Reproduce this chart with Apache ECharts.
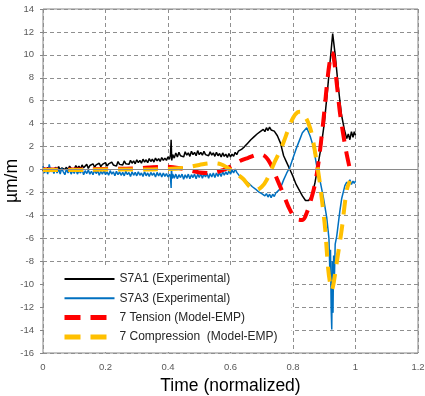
<!DOCTYPE html>
<html><head><meta charset="utf-8">
<script src="https://cdn.jsdelivr.net/npm/echarts@6/dist/echarts.min.js"></script>
<style>html,body{margin:0;padding:0;background:#fff}#c{width:425px;height:396px}</style>
</head><body><div id="c"></div>
<script>
const seriesNames = ['S7A1 (Experimental)', 'S7A3 (Experimental)', '7 Tension (Model-EMP)', '7 Compression  (Model-EMP)'];
const xTicks = [0, 0.2, 0.4, 0.6, 0.8, 1, 1.2];
const yTicks = [-16, -14, -12, -10, -8, -6, -4, -2, 0, 2, 4, 6, 8, 10, 12, 14];

const s7a1 = [
[0.000,-0.15],[0.005,0.15],[0.010,-0.05],[0.015,0.2],[0.020,-0.2],[0.025,0.1],[0.030,0.05],[0.035,-0.15],[0.040,0.2],[0.045,0.0],
[0.050,0.25],[0.055,-0.05],[0.060,0.15],[0.065,0.3],[0.070,0.0],[0.075,0.2],[0.080,-0.05],[0.085,0.3],[0.090,0.1],[0.095,0.25],
[0.100,0.0],[0.105,0.35],[0.110,0.1],[0.115,0.3],[0.120,0.05],[0.125,0.4],[0.130,0.15],[0.135,0.3],[0.140,0.45],[0.145,0.1],
[0.150,0.35],[0.155,0.2],[0.160,0.5],[0.165,0.2],[0.170,0.4],[0.175,0.25],[0.180,0.55],[0.185,0.25],[0.190,0.45],[0.195,0.3],
[0.200,0.6],[0.205,0.3],[0.210,0.5],[0.215,0.35],[0.220,0.65],[0.225,0.4],[0.230,0.55],[0.235,0.3],[0.240,0.7],[0.245,0.45],
[0.250,0.6],[0.255,0.4],[0.260,0.75],[0.265,0.5],[0.270,0.65],[0.275,0.45],[0.280,0.8],[0.285,0.55],[0.290,0.75],[0.295,0.5],
[0.300,0.85],[0.305,0.6],[0.310,0.8],[0.315,0.55],[0.320,0.9],[0.325,0.65],[0.330,0.85],[0.335,0.6],[0.340,0.95],[0.345,0.7],
[0.350,0.9],[0.355,0.65],[0.360,1.0],[0.365,0.75],[0.370,0.95],[0.375,0.7],[0.380,1.05],[0.385,0.8],[0.390,1.0],[0.395,0.8],
[0.400,1.1],[0.405,0.9],[0.408,1.3],[0.410,2.6],[0.412,0.8],[0.415,1.3],[0.420,1.0],[0.425,1.45],[0.430,1.1],[0.435,1.5],
[0.440,1.2],[0.445,1.35],[0.450,1.1],[0.455,1.55],[0.460,1.25],[0.465,1.45],[0.470,1.15],[0.475,1.6],[0.480,1.3],[0.485,1.5],
[0.490,1.2],[0.495,1.65],[0.500,1.3],[0.505,1.5],[0.510,1.25],[0.515,1.6],[0.520,1.3],[0.525,1.45],[0.530,1.2],[0.535,1.55],
[0.540,1.25],[0.545,1.45],[0.550,1.15],[0.555,1.5],[0.560,1.2],[0.565,1.4],[0.570,1.1],[0.575,1.45],[0.580,1.15],[0.585,1.35],
[0.590,1.05],[0.595,1.4],[0.600,1.1],[0.605,1.35],[0.610,1.15],[0.615,1.5],[0.620,1.3],[0.625,1.6],[0.630,1.45],[0.635,1.75],
[0.640,1.7],[0.645,2.0],[0.650,1.95],[0.655,2.3],[0.660,2.25],[0.665,2.6],[0.670,2.5],[0.675,2.85],[0.680,2.8],[0.685,3.1],
[0.690,2.95],[0.695,3.3],[0.700,3.15],[0.705,3.5],[0.710,3.3],[0.715,3.65],[0.720,3.4],[0.725,3.7],[0.730,3.45],[0.735,3.6],
[0.740,3.35],[0.745,3.3],[0.750,2.95],[0.76,2.3],[0.77,1.2],
[0.78,0.6],[0.79,0.0],[0.80,-0.6],[0.81,-1.3],[0.82,-1.8],[0.83,-2.3],[0.84,-2.7],[0.85,-2.7],[0.86,-2.3],[0.87,-1.2],
[0.88,0.4],[0.89,2.0],[0.90,4.0],[0.91,6.8],[0.92,9.8],[0.927,11.85],[0.935,10.0],[0.945,7.2],[0.955,4.8],[0.965,3.4],
[0.972,2.7],[0.977,3.1],[0.982,2.6],[0.987,3.3],[0.992,2.8],[0.996,3.3],[1.0,3.0]
];

const s7a3 = [
[0.000,0.3],[0.005,-0.3],[0.010,0.1],[0.015,-0.4],[0.020,0.45],[0.025,-0.2],[0.030,0.0],[0.035,-0.35],[0.040,0.15],[0.045,-0.3],
[0.050,0.05],[0.055,-0.4],[0.060,0.1],[0.065,-0.2],[0.070,-0.45],[0.075,0.05],[0.080,-0.3],[0.085,0.0],[0.090,-0.4],[0.095,-0.05],
[0.100,-0.35],[0.105,0.05],[0.110,-0.4],[0.115,-0.1],[0.120,-0.3],[0.125,0.0],[0.130,-0.45],[0.135,-0.1],[0.140,-0.35],[0.145,-0.05],
[0.150,-0.4],[0.155,-0.15],[0.160,-0.45],[0.165,-0.05],[0.170,-0.35],[0.175,-0.1],[0.180,-0.5],[0.185,-0.15],[0.190,-0.4],[0.195,-0.1],
[0.200,-0.45],[0.205,-0.2],[0.210,-0.5],[0.215,-0.1],[0.220,-0.4],[0.225,-0.2],[0.230,-0.55],[0.235,-0.15],[0.240,-0.45],[0.245,-0.2],
[0.250,-0.5],[0.255,-0.25],[0.260,-0.55],[0.265,-0.15],[0.270,-0.45],[0.275,-0.25],[0.280,-0.6],[0.285,-0.2],[0.290,-0.5],[0.295,-0.25],
[0.300,-0.55],[0.305,-0.2],[0.310,-0.5],[0.315,-0.3],[0.320,-0.6],[0.325,-0.2],[0.330,-0.55],[0.335,-0.3],[0.340,-0.6],[0.345,-0.25],
[0.350,-0.5],[0.355,-0.3],[0.360,-0.65],[0.365,-0.25],[0.370,-0.55],[0.375,-0.3],[0.380,-0.65],[0.385,-0.3],[0.390,-0.6],[0.395,-0.35],
[0.400,-0.65],[0.405,-0.4],[0.408,-0.7],[0.410,-1.6],[0.411,0.3],[0.413,-0.8],[0.415,-0.4],[0.420,-0.75],[0.425,-0.4],[0.430,-0.8],
[0.435,-0.45],[0.440,-0.7],[0.445,-0.4],[0.450,-0.85],[0.455,-0.45],[0.460,-0.75],[0.465,-0.4],[0.470,-0.8],[0.475,-0.45],[0.480,-0.7],
[0.485,-0.4],[0.490,-0.8],[0.495,-0.4],[0.500,-0.7],[0.505,-0.35],[0.510,-0.75],[0.515,-0.4],[0.520,-0.65],[0.525,-0.35],[0.530,-0.75],
[0.535,-0.35],[0.540,-0.65],[0.545,-0.3],[0.550,-0.7],[0.555,-0.3],[0.560,-0.6],[0.565,-0.25],[0.570,-0.6],[0.575,-0.2],[0.580,-0.5],
[0.585,-0.2],[0.590,-0.45],[0.595,-0.1],[0.600,-0.4],[0.605,-0.05],[0.610,-0.3],[0.615,0.05],[0.620,-0.25],[0.625,-0.3],[0.630,-0.6],
[0.635,-0.5],[0.640,-0.8],[0.645,-0.7],[0.650,-1.0],[0.655,-0.9],[0.660,-1.25],[0.665,-1.15],[0.670,-1.5],[0.675,-1.4],[0.680,-1.7],
[0.685,-1.6],[0.690,-1.95],[0.695,-1.8],[0.700,-2.1],[0.705,-1.95],[0.710,-2.3],[0.715,-2.1],[0.720,-2.4],[0.725,-2.15],[0.730,-2.45],
[0.735,-2.15],[0.740,-2.35],[0.745,-2.05],[0.750,-2.2],[0.755,-1.8],[0.76,-1.6],
[0.77,-0.9],[0.78,-0.3],[0.79,0.2],[0.80,1.0],[0.81,1.8],[0.82,2.5],[0.83,3.2],[0.844,3.65],[0.855,2.9],[0.865,2.0],
[0.876,0.3],[0.886,-0.9],[0.897,-2.4],[0.908,-4.2],[0.915,-6.0],[0.918,-9.0],[0.92,-7.0],[0.922,-12.0],[0.924,-13.95],[0.926,-8.0],
[0.928,-12.5],[0.93,-7.5],[0.932,-10.0],[0.935,-6.5],[0.94,-5.8],[0.95,-3.6],[0.956,-2.5],[0.966,-1.4],[0.972,-1.1],[0.977,-1.3],
[0.982,-0.9],[0.987,-1.3],[0.992,-1.0],[0.996,-1.2],[1.0,-1.0]
];

const tension = [
[0,0.0],[0.1,0.0],[0.2,0.05],[0.3,0.1],[0.35,0.2],[0.4,0.25],[0.45,0.05],[0.5,-0.25],[0.54,-0.3],[0.58,0.0],
[0.61,0.4],[0.63,0.75],[0.655,1.0],[0.69,1.3],[0.705,1.25],[0.726,0.6],[0.75,-0.9],[0.77,-2.2],[0.79,-3.5],[0.81,-4.3],
[0.83,-4.4],[0.845,-3.7],[0.86,-2.4],[0.87,-1.3],[0.88,0.3],[0.89,2.5],[0.90,5.0],[0.91,7.8],[0.918,9.5],[0.924,10.2],
[0.93,9.8],[0.94,7.5],[0.95,5.0],[0.96,3.2],[0.97,1.6],[0.98,0.3]
];

const compression = [
[0,-0.05],[0.1,-0.05],[0.2,0.0],[0.3,0.0],[0.4,0.05],[0.45,0.15],[0.5,0.4],[0.54,0.55],[0.57,0.45],[0.59,0.15],
[0.62,-0.4],[0.64,-0.8],[0.66,-1.45],[0.68,-1.8],[0.70,-1.5],[0.716,-0.9],[0.742,0.7],[0.758,1.6],[0.77,2.4],[0.785,3.5],
[0.80,4.5],[0.815,5.0],[0.825,5.05],[0.838,4.65],[0.85,4.0],[0.86,3.1],[0.87,1.6],[0.876,0.6],[0.885,-1.0],[0.895,-3.2],
[0.903,-5.2],[0.912,-8.5],[0.918,-9.8],[0.924,-10.5],[0.93,-9.9],[0.94,-8.1],[0.956,-5.2],[0.972,-1.8],[0.982,-1.0]
];

const colors = ['#000000', '#0070C0', '#FF0000', '#FFC000'];
const FONT = 'Liberation Sans, Arial, sans-serif';

const chart = echarts.init(document.getElementById('c'), null, {renderer: 'canvas'});
const gridStyle = {color: '#8f8f8f', width: 1, type: [4, 3]};

chart.setOption({
  animation: false,
  backgroundColor: '#fff',
  grid: {left: 43, right: 7, top: 9, bottom: 43, outerBoundsMode: 'none', containLabel: false,
         show: true, borderColor: '#868686', borderWidth: 1, backgroundColor: 'transparent'},
  xAxis: {
    type: 'value', min: xTicks[0], max: xTicks[xTicks.length - 1], interval: 0.2,
    name: 'Time (normalized)', nameLocation: 'middle', nameGap: 24, nameMoveOverlap: false,
    nameTextStyle: {fontFamily: FONT, fontSize: 17.5, color: '#000'},
    axisLine: {show: false},
    axisTick: {show: false},
    axisLabel: {fontFamily: FONT, fontSize: 9.5, color: '#595959', margin: 9},
    splitLine: {show: true, lineStyle: gridStyle}
  },
  yAxis: {
    type: 'value', min: yTicks[0], max: yTicks[yTicks.length - 1], interval: 2,
    name: 'µm/m', nameLocation: 'middle', nameGap: 22, nameMoveOverlap: false,
    nameTextStyle: {fontFamily: FONT, fontSize: 17.5, color: '#000'},
    axisLine: {show: false},
    axisTick: {show: true, length: 3, lineStyle: {color: '#868686'}},
    axisLabel: {fontFamily: FONT, fontSize: 9.5, color: '#595959', margin: 9},
    splitLine: {show: true, lineStyle: gridStyle}
  },
  legend: {
    orient: 'vertical', left: 44, top: 266,
    padding: [7, 14, 9, 18],
    backgroundColor: '#ffffff',
    itemWidth: 50, itemHeight: 12, itemGap: 7.3,
    itemStyle: {opacity: 0},
    textStyle: {fontFamily: FONT, fontSize: 12, color: '#262626'},
    data: [
      {name: seriesNames[0], lineStyle: {width: 2}},
      {name: seriesNames[1], lineStyle: {width: 2}},
      {name: seriesNames[2], lineStyle: {width: 5, type: [16, 10]}},
      {name: seriesNames[3], lineStyle: {width: 5, type: [16, 10]}}
    ]
  },
  series: [
    {name: seriesNames[0], type: 'line', data: s7a1, symbol: 'none', showSymbol: false,
     lineStyle: {color: colors[0], width: 1.5}, itemStyle: {color: colors[0]},
     markLine: {silent: true, symbol: 'none', label: {show: false},
       lineStyle: {color: '#8a8a8a', width: 1, type: 'solid'}, data: [{yAxis: 0}]}},
    {name: seriesNames[1], type: 'line', data: s7a3, symbol: 'none', showSymbol: false,
     lineStyle: {color: colors[1], width: 1.5}, itemStyle: {color: colors[1]}},
    {name: seriesNames[2], type: 'line', data: tension, symbol: 'none', showSymbol: false, smooth: 0.35,
     lineStyle: {color: colors[2], width: 4, type: [15, 10], cap: 'butt'}, itemStyle: {color: colors[2]}},
    {name: seriesNames[3], type: 'line', data: compression, symbol: 'none', showSymbol: false, smooth: 0.35,
     lineStyle: {color: colors[3], width: 4, type: [15, 10], cap: 'butt'}, itemStyle: {color: colors[3]}}
  ]
});
</script>
</body></html>
